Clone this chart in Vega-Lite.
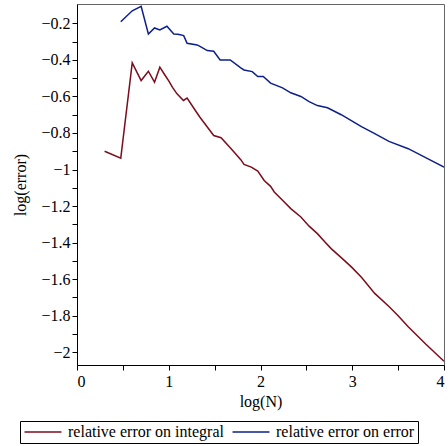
{
  "$schema": "https://vega.github.io/schema/vega-lite/v6.json",
  "autosize": {"type": "none"},
  "padding": {"left": 77, "top": 4, "right": 4, "bottom": 81},
  "width": 367,
  "height": 361,
  "background": "white",
  "config": {
    "font": "Liberation Serif",
    "view": {"stroke": "#666666", "strokeWidth": 1},
    "style": {"guide-label": {"font": "Liberation Serif"}, "guide-title": {"font": "Liberation Serif"}},
    "axis": {
      "grid": false,
      "domainColor": "black",
      "tickColor": "black",
      "tickSize": 5,
      "labelFont": "Liberation Serif",
      "labelFontSize": 16,
      "labelColor": "black",
      "titleFont": "Liberation Serif",
      "titleFontSize": 16,
      "titleFontWeight": "normal",
      "titleColor": "black"
    }
  },
  "data": {
    "values": [
      {"x": 0.301, "y": -0.90, "s": "relative error on integral"},
      {"x": 0.477, "y": -0.938, "s": "relative error on integral"},
      {"x": 0.602, "y": -0.416, "s": "relative error on integral"},
      {"x": 0.699, "y": -0.513, "s": "relative error on integral"},
      {"x": 0.778, "y": -0.462, "s": "relative error on integral"},
      {"x": 0.845, "y": -0.522, "s": "relative error on integral"},
      {"x": 0.903, "y": -0.44, "s": "relative error on integral"},
      {"x": 0.954, "y": -0.48, "s": "relative error on integral"},
      {"x": 1.0, "y": -0.515, "s": "relative error on integral"},
      {"x": 1.041, "y": -0.55, "s": "relative error on integral"},
      {"x": 1.09, "y": -0.586, "s": "relative error on integral"},
      {"x": 1.16, "y": -0.622, "s": "relative error on integral"},
      {"x": 1.20, "y": -0.609, "s": "relative error on integral"},
      {"x": 1.29, "y": -0.677, "s": "relative error on integral"},
      {"x": 1.34, "y": -0.714, "s": "relative error on integral"},
      {"x": 1.49, "y": -0.814, "s": "relative error on integral"},
      {"x": 1.57, "y": -0.826, "s": "relative error on integral"},
      {"x": 1.68, "y": -0.886, "s": "relative error on integral"},
      {"x": 1.785, "y": -0.946, "s": "relative error on integral"},
      {"x": 1.82, "y": -0.972, "s": "relative error on integral"},
      {"x": 1.90, "y": -0.987, "s": "relative error on integral"},
      {"x": 1.97, "y": -1.009, "s": "relative error on integral"},
      {"x": 2.04, "y": -1.06, "s": "relative error on integral"},
      {"x": 2.11, "y": -1.092, "s": "relative error on integral"},
      {"x": 2.15, "y": -1.123, "s": "relative error on integral"},
      {"x": 2.24, "y": -1.168, "s": "relative error on integral"},
      {"x": 2.33, "y": -1.214, "s": "relative error on integral"},
      {"x": 2.44, "y": -1.26, "s": "relative error on integral"},
      {"x": 2.53, "y": -1.31, "s": "relative error on integral"},
      {"x": 2.62, "y": -1.351, "s": "relative error on integral"},
      {"x": 2.70, "y": -1.395, "s": "relative error on integral"},
      {"x": 2.77, "y": -1.433, "s": "relative error on integral"},
      {"x": 2.88, "y": -1.482, "s": "relative error on integral"},
      {"x": 2.99, "y": -1.533, "s": "relative error on integral"},
      {"x": 3.10, "y": -1.59, "s": "relative error on integral"},
      {"x": 3.245, "y": -1.678, "s": "relative error on integral"},
      {"x": 3.40, "y": -1.75, "s": "relative error on integral"},
      {"x": 3.50, "y": -1.80, "s": "relative error on integral"},
      {"x": 3.61, "y": -1.861, "s": "relative error on integral"},
      {"x": 3.80, "y": -1.955, "s": "relative error on integral"},
      {"x": 4.0, "y": -2.049, "s": "relative error on integral"},
      {"x": 0.477, "y": -0.191, "s": "relative error on error"},
      {"x": 0.602, "y": -0.131, "s": "relative error on error"},
      {"x": 0.699, "y": -0.107, "s": "relative error on error"},
      {"x": 0.778, "y": -0.258, "s": "relative error on error"},
      {"x": 0.845, "y": -0.225, "s": "relative error on error"},
      {"x": 0.903, "y": -0.236, "s": "relative error on error"},
      {"x": 0.98, "y": -0.216, "s": "relative error on error"},
      {"x": 1.055, "y": -0.258, "s": "relative error on error"},
      {"x": 1.10, "y": -0.26, "s": "relative error on error"},
      {"x": 1.163, "y": -0.267, "s": "relative error on error"},
      {"x": 1.20, "y": -0.309, "s": "relative error on error"},
      {"x": 1.31, "y": -0.318, "s": "relative error on error"},
      {"x": 1.34, "y": -0.326, "s": "relative error on error"},
      {"x": 1.42, "y": -0.349, "s": "relative error on error"},
      {"x": 1.49, "y": -0.353, "s": "relative error on error"},
      {"x": 1.56, "y": -0.40, "s": "relative error on error"},
      {"x": 1.67, "y": -0.40, "s": "relative error on error"},
      {"x": 1.785, "y": -0.444, "s": "relative error on error"},
      {"x": 1.82, "y": -0.455, "s": "relative error on error"},
      {"x": 1.91, "y": -0.464, "s": "relative error on error"},
      {"x": 1.97, "y": -0.491, "s": "relative error on error"},
      {"x": 2.03, "y": -0.491, "s": "relative error on error"},
      {"x": 2.11, "y": -0.527, "s": "relative error on error"},
      {"x": 2.24, "y": -0.553, "s": "relative error on error"},
      {"x": 2.33, "y": -0.58, "s": "relative error on error"},
      {"x": 2.44, "y": -0.60, "s": "relative error on error"},
      {"x": 2.53, "y": -0.628, "s": "relative error on error"},
      {"x": 2.62, "y": -0.65, "s": "relative error on error"},
      {"x": 2.73, "y": -0.662, "s": "relative error on error"},
      {"x": 2.88, "y": -0.70, "s": "relative error on error"},
      {"x": 2.99, "y": -0.732, "s": "relative error on error"},
      {"x": 3.10, "y": -0.765, "s": "relative error on error"},
      {"x": 3.245, "y": -0.804, "s": "relative error on error"},
      {"x": 3.40, "y": -0.846, "s": "relative error on error"},
      {"x": 3.61, "y": -0.886, "s": "relative error on error"},
      {"x": 3.80, "y": -0.935, "s": "relative error on error"},
      {"x": 4.0, "y": -0.987, "s": "relative error on error"}
    ]
  },
  "mark": {"type": "line", "strokeWidth": 1.5, "clip": true},
  "encoding": {
    "x": {
      "field": "x", "type": "quantitative", "title": "log(N)",
      "scale": {"domain": [0, 4], "nice": false, "zero": false},
      "axis": {
        "values": [0, 0.5, 1, 1.5, 2, 2.5, 3, 3.5, 4],
        "labelExpr": "round(datum.value*2) % 2 == 0 ? format(datum.value, '~f') : ''",
        "labelFont": "Liberation Serif",
        "labelFontSize": 16,
        "labelPadding": 3,
        "titlePadding": 4
      }
    },
    "y": {
      "field": "y", "type": "quantitative", "title": "log(error)",
      "scale": {"domain": [-2.07, -0.094], "nice": false, "zero": false},
      "axis": {
        "values": [-2, -1.9, -1.8, -1.7, -1.6, -1.5, -1.4, -1.3, -1.2, -1.1, -1, -0.9, -0.8, -0.7, -0.6, -0.5, -0.4, -0.3, -0.2],
        "labelExpr": "round(datum.value*10) % 2 == 0 ? format(datum.value, '.1~f') : ''",
        "labelFont": "Liberation Serif",
        "labelFontSize": 16,
        "labelPadding": 2,
        "titlePadding": 12
      }
    },
    "color": {
      "field": "s", "type": "nominal",
      "scale": {
        "domain": ["relative error on integral", "relative error on error"],
        "range": ["#7b0c1c", "#0c1f8a"]
      },
      "legend": {
        "orient": "none",
        "legendX": -57,
        "legendY": 417,
        "direction": "horizontal",
        "title": null,
        "strokeColor": "black",
        "padding": 3,
        "symbolType": "M-2.64,0H2.64",
        "symbolSize": 196,
        "symbolOffset": 12,
        "symbolStrokeWidth": 1.5,
        "labelFont": "Liberation Serif",
        "labelFontSize": 16,
        "labelColor": "black",
        "labelOffset": 17,
        "columnPadding": 5,
        "labelLimit": 300
      }
    }
  }
}
